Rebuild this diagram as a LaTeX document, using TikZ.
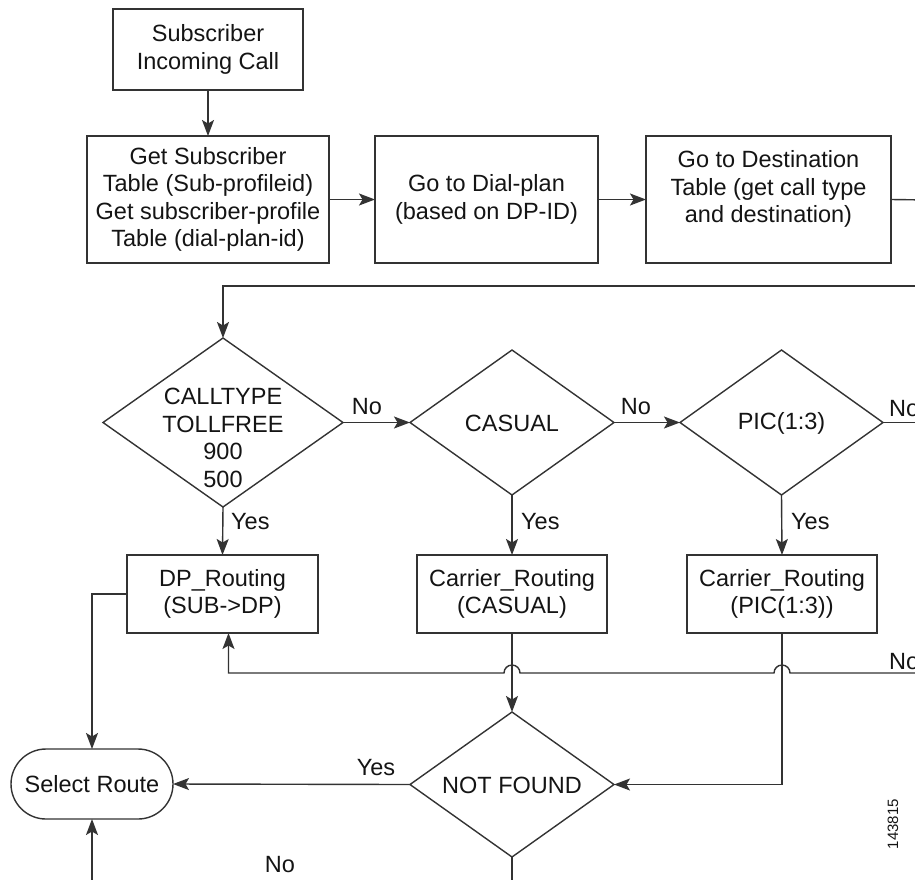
\documentclass[tikz,border=0pt]{standalone}
\usepackage{fontspec}
\setmainfont{Liberation Sans}
\usetikzlibrary{shapes.geometric,arrows.meta}
\begin{document}
\begin{tikzpicture}[x=1pt,y=-1pt,
  every node/.style={font=\fontsize{23.5}{27.5}\selectfont, text=black!92},
  ln/.style={draw=black!80, line width=1.4pt},
  arr/.style={ln, -{Stealth[length=16pt,width=12pt,inset=3.5pt]}},
  box/.style={ln, rectangle, align=center, inner sep=0pt, outer sep=0pt},
  dia/.style={ln, diamond, inner sep=0pt, outer sep=0pt},
  lbl/.style={inner sep=0pt}
]
\useasboundingbox (0,0) rectangle (915,879);
\clip (0,0) rectangle (915,879);

% top row
\node[box, minimum width=190pt, minimum height=81pt] (s) at (208,49.5) {Subscriber\\Incoming Call};
\node[box, minimum width=242pt, minimum height=127pt] (b2) at (208,199.5) {Get Subscriber\\Table (Sub-profileid)\\Get subscriber-profile\\Table (dial-plan-id)};
\node[box, minimum width=223pt, minimum height=127pt] (b3) at (486.5,199.5) {Go to Dial-plan\\(based on DP-ID)};
\node[box, minimum width=245pt, minimum height=127pt] (b4) at (768.5,199.5) {Go to Destination\\Table (get call type\\and destination)\\[-2pt]};

% diamonds
\node[dia, minimum width=240pt, minimum height=169pt] (d1) at (223,422.5) {};
\node[lbl, align=center] (d1t) at (223,438) {CALLTYPE\\TOLLFREE\\900\\500};
\node[dia, minimum width=204pt, minimum height=145pt] (d2) at (512,422.5) {};
\node[lbl] (d2t) at (512,423) {CASUAL};
\node[dia, minimum width=203pt, minimum height=145pt] (d3) at (781.5,422.5) {};
\node[lbl] (d3t) at (781.5,423) {PIC(1:3)};

% routing boxes
\node[box, minimum width=191pt, minimum height=78pt] (dp) at (222.5,594) {DP\_Routing\\(SUB->DP)};
\node[box, minimum width=190pt, minimum height=78pt] (c1) at (512,594) {Carrier\_Routing\\(CASUAL)};
\node[box, minimum width=190pt, minimum height=78pt] (c2) at (782,594) {Carrier\_Routing\\(PIC(1:3))};

% not found and select route
\node[dia, minimum width=204pt, minimum height=145pt] (nf) at (512,784.5) {};
\node[lbl] (nft) at (512,785) {NOT FOUND};
\node[ln, rectangle, rounded corners=35pt, minimum width=162pt, minimum height=70pt, inner sep=0pt, outer sep=0pt] (sr) at (92,784) {Select Route};

% free ends
\coordinate (e1) at (930,200);
\coordinate (e2) at (930,286);
\coordinate (e3) at (930,422.5);
\coordinate (e4) at (930,673);
\coordinate (e5) at (92,895);
\coordinate (e6) at (512,895);

% connectors
\draw[arr] (s) -- (b2);
\draw[arr] (b2) -- (b3);
\draw[arr] (b3) -- (b4);
\draw[ln] (b4.east) -- (e1);
\draw[arr] (e2) -| (d1.north);
\draw[arr] (d1.east) -- (d2.west);
\draw[arr] (d2.east) -- (d3.west);
\draw[ln] (d3.east) -- (e3);
\draw[arr] (d1.south) -- (dp.north);
\draw[arr] (d2.south) -- (c1.north);
\draw[arr] (d3.south) -- (c2.north);
\draw[arr] (e4) -- (790,673) arc[start angle=0,end angle=180,radius=8pt]
  -- (520,673) arc[start angle=0,end angle=180,radius=8pt]
  -| ([xshift=6pt]dp.south);
\draw[arr] (c1.south) -- (nf.north);
\draw[arr] (c2.south) |- (nf.east);
\draw[arr] (nf.west) -- (sr.east);
\draw[arr] (dp.west) -| (sr.north);
\draw[arr] (e5) -- (sr.south);
\draw[ln] (nf.south) -- (e6);

% labels
\node[lbl] (l1) at (367,407) {No};
\node[lbl] (l2) at (636,407) {No};
\node[lbl, anchor=west] (l3) at (889,409) {No};
\node[lbl, anchor=west] (y1) at (231,522) {Yes};
\node[lbl, anchor=west] (y2) at (521,522) {Yes};
\node[lbl, anchor=west] (y3) at (791,522) {Yes};
\node[lbl, anchor=west] (l4) at (889,662) {No};
\node[lbl] (y4) at (376,768) {Yes};
\node[lbl] (l5) at (280,865) {No};
\node[lbl, rotate=90, font=\fontsize{15}{18}\selectfont] (fig) at (893,824) {143815};
\end{tikzpicture}
\end{document}
